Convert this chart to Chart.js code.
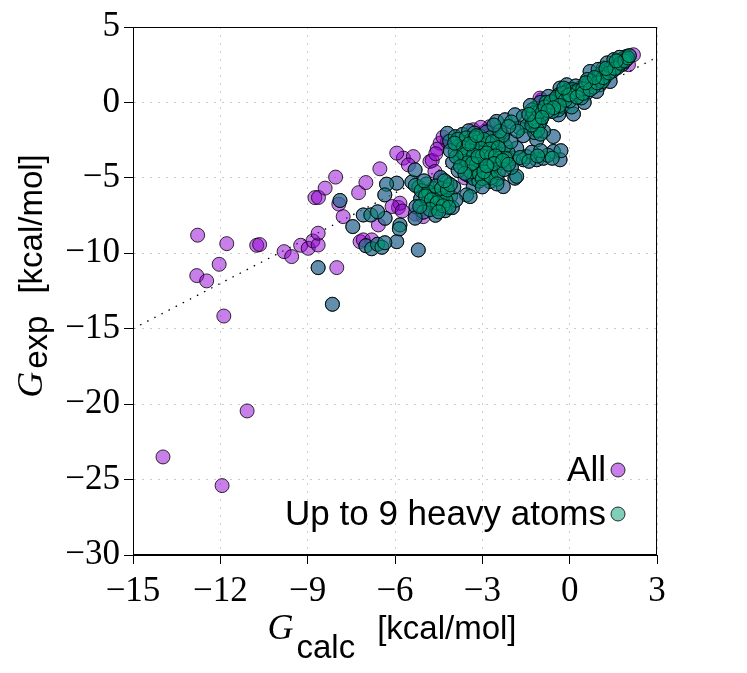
<!DOCTYPE html>
<html>
<head>
<meta charset="utf-8">
<script src="https://cdn.jsdelivr.net/npm/chart.js@4.4.0/dist/chart.umd.min.js"></script>
<style>
  html, body { margin: 0; padding: 0; background: #fff; }
  #wrap { width: 747px; height: 673px; }
</style>
</head>
<body>
<div id="wrap"><canvas id="chart" width="747" height="673"></canvas></div>
<script>
// ==================== DATA ====================
// molecules only in "All" (not in the small-molecule subset)
const allOnlyX = [-13.97, -11.94, -11.08, -11.88, -12.81, -12.47, -12.04, -12.78, -11.78, -10.75,
  -10.65, -9.81, -9.55, -9.24, -8.98, -8.82, -8.64, -8.64, -8.00, -8.75,
  -8.63, -8.40, -8.04, -7.93, -7.78, -7.25, -7.00, -6.52, -7.20, -6.57,
  -5.88, -5.71, -5.37, -5.54, -4.80, -4.72, -4.63, -5.83, -5.14, -4.45,
  -4.55, -2.74, -3.31, -0.96, -1.02, -0.85, 2.19, 2.02, -7.09, -6.80,
  -5.03, -4.34, -2.56, -2.60, -3.60, -3.40, -6.10, -5.75, -5.30, -2.90,
  -3.90, -4.20, -5.94, -4.35, -3.05, -4.60, -2.35];
const allOnlyY = [-23.5, -25.4, -20.45, -14.16, -11.48, -11.83, -10.73, -8.8, -9.36, -9.47,
  -9.42, -9.89, -10.22, -9.47, -9.67, -9.18, -9.45, -8.67, -10.95, -6.31,
  -6.3, -5.68, -4.95, -6.74, -7.57, -5.98, -5.31, -4.4, -9.23, -8.12,
  -6.96, -3.69, -3.59, -4.14, -3.92, -3.85, -4.58, -6.68, -7.12, -2.7,
  -3.1, -1.6, -1.81, 0.18, 0.29, -0.04, 3.16, 2.5, -9.11, -9.11,
  -7.57, -5.13, -2.15, -2.05, -5.0, -4.95, -6.9, -7.2, -7.4, -1.9,
  -2.45, -2.6, -3.36, -2.3, -1.65, -3.4, -1.95];

// molecules with up to 9 heavy atoms (also part of "All")
const heavyX = [
  -2.51, -2.22, -1.88, -1.59, -1.71, -1.47, -1.13, -0.56, -1.59, -0.33,
  -0.73, -0.10, 1.39, 0.70, 1.16, 0.13, -0.38, -0.28, 1.04, 0.93,
  0.58, 0.30, -0.05, -0.38, 0.07, 0.50, -2.30, -4.20,
  0.36, 0.52, 0.66, 0.79, 0.91, 1.02, 1.09, 1.21, 1.31, 1.42,
  1.49, 1.61, 1.69, 1.79, 1.88, 1.96, 0.61, 0.98, 1.29, 1.52,
  1.71, 0.82, 1.19, 1.48, 1.81, 1.64, 1.86, 1.94, 1.12, 0.21,
  -1.20, -1.10, -1.00, -1.15, -0.90, -0.70, -0.50, -0.30, -0.10, 0.10,
  0.20, -0.20, -0.90, -1.30, -1.20, -0.40, 0.00, 0.40, -1.00, -1.30,
  -1.25, -0.95, -0.60, -0.80,
  -1.48, -1.13, -0.90, -0.56, -0.33, -0.30, -1.93, -2.16, -2.45, -2.74,
  -2.97, -3.14, -1.88, -1.82, -1.59, -1.82, -2.28, -2.74, -3.31, -3.54,
  -3.42, -2.00, -1.30, -0.75, -1.00,
  -4.12, -3.93, -3.68, -3.47, -3.27, -3.08, -2.86, -2.71, -2.48, -3.82,
  -3.61, -3.38, -3.18, -2.97, -2.79, -2.62, -3.93, -3.72, -3.49, -3.31,
  -3.09, -2.88, -2.69, -2.52, -3.74, -3.52, -3.28, -3.07, -2.91, -2.68,
  -2.33, -2.12, -3.63, -3.42, -3.19, -2.98, -2.81, -2.58, -3.52, -3.29,
  -3.12, -2.87, -2.49, -4.02, -3.83, -2.21, -2.02, -2.31,
  -5.42, -5.18, -4.97, -4.81, -4.58, -4.41, -4.19, -5.12, -4.88, -4.69,
  -4.52, -4.28, -4.92, -4.68, -4.49, -4.31, -4.09, -3.98, -4.22, -4.43,
  -5.28, -5.02, -4.61, -4.03, -3.91,
  -5.94, -5.31, -4.57, -5.83, -5.31, -6.29, -6.35, -5.94, -5.85, -5.20,
  -7.09, -6.83, -6.34, -7.45, -7.89, -8.64, -8.15, -6.60,
  -7.00, -6.80, -6.60, -6.45, -6.35,
  -3.85, -3.55, -3.25, -2.95, -2.65, -3.65, -3.35, -3.05, -2.75, -2.45,
  -3.60, -3.30, -3.00, -2.70, -2.40, -3.50, -3.20, -2.90, -2.60, -3.40,
  -3.10, -2.80, -3.00, -2.70, -3.90, -4.10, -3.95, -2.35, -2.20, -3.35,
  -3.15, -2.85, -3.45, -3.20, -2.55, -3.60, -3.75, -2.95, -2.45, -2.25,
  -1.25, -1.15, -1.05, -1.10, -1.00, -1.30, -1.20, -1.05, -0.85, -0.65,
  -0.45, -0.25, -0.05, 0.15, 0.30, 0.45, -0.15, -0.35, -0.55, -0.75,
  -0.95, -1.35, -1.40, 0.00, 0.25, 0.45, 0.70, 0.95, 1.15, 1.35,
  1.55, 1.75, 1.90, 2.00, 0.55, 0.85, 1.25, 1.60, 2.05, -0.20,
  -5.30, -5.10, -4.85, -4.65, -4.45, -4.25, -4.95, -4.75, -4.55, -4.35,
  -4.15, -4.60, -4.40, -4.20, -4.80, -5.15, -4.10, -4.30, -5.00, -4.50,
  -2.60, -2.30, -1.70, -1.40, -2.85, -0.60, -1.10, -2.10, -2.50, -3.00,
  -2.00, -1.80, -2.40, -2.10, -2.60];
const heavyY = [
  -1.26, -1.15, -0.82, -0.93, -1.70, -1.55, -2.48, -2.26, -2.20, 0.95,
  0.40, 1.17, 1.39, 2.05, 2.28, -0.77, -0.82, -0.27, 1.17, 0.73,
  0.62, 0.40, 0.84, 0.50, -0.30, 0.00, -2.30, -2.05,
  0.95, 1.08, 1.27, 1.41, 1.58, 1.76, 1.92, 2.03, 2.14, 2.31,
  2.47, 2.56, 2.72, 2.84, 2.96, 3.05, 1.52, 2.19, 2.62, 2.84,
  2.99, 1.02, 1.61, 2.09, 2.52, 2.31, 2.71, 2.86, 1.39, 1.09,
  -0.40, -0.80, -1.20, -1.60, -0.50, -0.10, 0.20, 0.50, 0.70, 0.85,
  0.60, 0.30, -1.90, -1.00, -2.00, -0.50, 0.10, 0.30, 0.00, -0.50,
  -1.30, -0.80, -0.60, 0.00,
  -3.59, -3.80, -3.70, -3.25, -3.80, -3.20, -3.70, -3.92, -3.92, -4.00,
  -4.25, -4.47, -5.02, -3.03, -3.80, -4.90, -5.58, -5.25, -5.58, -6.13,
  -6.24, -4.30, -3.30, -3.50, -3.20,
  -2.58, -2.27, -2.12, -1.88, -2.03, -2.24, -1.97, -2.33, -2.52, -2.93,
  -2.66, -2.47, -2.63, -2.84, -2.69, -3.04, -3.31, -3.18, -3.08, -3.24,
  -3.34, -3.17, -3.42, -3.27, -3.71, -3.58, -3.83, -3.92, -3.66, -3.88,
  -3.46, -3.31, -4.18, -4.33, -4.52, -4.37, -4.63, -4.41, -4.78, -5.04,
  -5.21, -4.97, -5.08, -3.97, -4.52, -2.88, -2.61, -2.18,
  -5.28, -5.62, -5.91, -6.12, -6.28, -6.52, -6.71, -6.38, -6.63, -6.82,
  -7.03, -7.18, -5.41, -5.72, -5.88, -6.03, -6.21, -5.62, -5.31, -4.98,
  -6.91, -7.27, -7.48, -6.97, -6.48,
  -5.35, -4.47, -6.68, -8.12, -7.67, -5.42, -6.13, -9.23, -8.38, -9.78,
  -7.46, -7.46, -7.68, -8.23, -6.50, -10.95, -13.38, -7.25,
  -9.50, -9.70, -9.40, -9.60, -9.30,
  -2.45, -2.35, -2.35, -2.45, -2.60, -3.00, -2.90, -3.05, -3.10, -3.00,
  -3.45, -3.50, -3.55, -3.60, -3.70, -4.00, -4.10, -4.15, -4.10, -4.60,
  -4.75, -4.85, -5.05, -5.00, -3.60, -3.20, -2.70, -4.00, -3.70, -4.05,
  -3.60, -3.35, -2.75, -2.20, -3.55, -4.70, -4.25, -4.60, -4.65, -4.45,
  -0.70, -1.10, -1.45, -1.85, -2.10, -1.50, -1.25, -0.60, -0.30, 0.05,
  0.35, 0.60, 0.50, 0.70, 0.80, 0.90, 0.15, -0.20, -0.35, -0.55,
  -1.00, -0.20, -0.80, 0.50, 0.35, 0.60, 0.85, 1.30, 1.65, 1.95,
  2.25, 2.60, 2.75, 2.95, 1.30, 1.65, 2.25, 2.75, 3.10, 0.95,
  -5.50, -5.85, -5.95, -6.15, -6.35, -6.50, -6.20, -6.45, -6.65, -6.85,
  -6.95, -5.55, -5.70, -5.80, -7.10, -6.90, -5.45, -5.20, -5.20, -7.25,
  -4.05, -3.85, -3.65, -3.90, -4.20, -3.70, -3.55, -4.10, -5.40, -5.60,
  -1.30, -1.90, -1.90, -1.60, -1.50];

const seriesLabels = ["All", "Up to 9 heavy atoms"];
const xTicks = [-15, -12, -9, -6, -3, 0, 3];
const yTicks = [5, 0, -5, -10, -15, -20, -25, -30];
const diagonalX = [-15, 3];          // y = x reference line
const symbolText = "G";
const xSubText = "calc";
const ySubText = "exp";
const unitText = "[kcal/mol]";

// ==================== STYLE ====================
const serifFont = '"Liberation Serif", "Times New Roman", serif';
const sansFont = '"Liberation Sans", Arial, sans-serif';
const allColor = "rgba(148, 0, 211, 0.5)";
const heavyColor = "rgba(0, 158, 115, 0.5)";
const edgeColor = "rgba(0, 0, 0, 0.8)";
const markerRadius = 7;

function toPoints(xs, ys) {
  return xs.map((x, i) => ({ x: x, y: ys[i] }));
}

function fmtTick(v) {
  return v < 0 ? "\u2212" + Math.abs(v) : String(v);
}

function drawAxisTitle(ctx, sub, drop, cx, cy, vertical) {
  ctx.save();
  ctx.translate(cx, cy);
  if (vertical) ctx.rotate(-Math.PI / 2);
  ctx.fillStyle = "#000";
  ctx.textBaseline = "alphabetic";
  ctx.textAlign = "left";
  ctx.font = "italic 36px " + serifFont;
  const wG = ctx.measureText(symbolText).width;
  ctx.font = "33px " + sansFont;
  const wS = ctx.measureText(sub).width;
  const wU = ctx.measureText(unitText).width;
  const gap = 22;
  let x = -(wG + 3 + wS + gap + wU) / 2;
  ctx.font = "italic 36px " + serifFont;
  ctx.fillText(symbolText, x, 0);
  x += wG + 3;
  ctx.font = "33px " + sansFont;
  ctx.fillText(sub, x, drop);
  x += wS + gap;
  ctx.fillText(unitText, x, 0);
  ctx.restore();
}

const decorPlugin = {
  id: "decor",
  beforeDatasetsDraw(chart) {
    // box around the plot
    const { ctx, chartArea: a } = chart;
    ctx.save();
    ctx.strokeStyle = "#000";
    ctx.lineWidth = 1;
    ctx.strokeRect(a.left + 0.5, a.top + 0.5, a.right - a.left - 1, a.bottom - a.top - 1);
    ctx.restore();
  },
  afterDraw(chart) {
    const ctx = chart.ctx;
    drawAxisTitle(ctx, xSubText, 19, 392, 639, false);
    drawAxisTitle(ctx, ySubText, 5, 42, 276, true);

    // legend: text first, marker on the right
    const colors = [allColor, heavyColor];
    ctx.save();
    ctx.font = "35px " + sansFont;
    ctx.textAlign = "right";
    ctx.textBaseline = "alphabetic";
    seriesLabels.forEach((lab, i) => {
      const y = 470 + i * 44;
      ctx.fillStyle = "#000";
      ctx.fillText(lab, 606, y + 11);
      ctx.beginPath();
      ctx.arc(618, y, markerRadius, 0, Math.PI * 2);
      ctx.fillStyle = "#fff";
      ctx.fill();
      ctx.fillStyle = colors[i];
      ctx.fill();
      ctx.lineWidth = 1;
      ctx.strokeStyle = edgeColor;
      ctx.stroke();
    });
    ctx.restore();
  }
};

// ==================== CHART ====================
const gridCommon = {
  color: "#cccccc",
  lineWidth: 1,
  drawTicks: true,
  tickLength: 9,
  tickColor: "#000",
  tickWidth: 1,
  tickBorderDash: []
};

new Chart(document.getElementById("chart"), {
  type: "scatter",
  data: {
    datasets: [
      {
        label: seriesLabels[1],
        data: toPoints(heavyX, heavyY),
        backgroundColor: heavyColor,
        borderColor: edgeColor,
        borderWidth: 1,
        pointRadius: markerRadius,
        pointHoverRadius: markerRadius,
        order: 1
      },
      {
        label: seriesLabels[0],
        data: toPoints(allOnlyX, allOnlyY).concat(toPoints(heavyX, heavyY)),
        backgroundColor: allColor,
        borderColor: edgeColor,
        borderWidth: 1,
        pointRadius: markerRadius,
        pointHoverRadius: markerRadius,
        order: 2
      },
      {
        type: "line",
        label: "y = x",
        data: toPoints(diagonalX, diagonalX),
        showLine: true,
        borderColor: "#000",
        borderWidth: 1.3,
        borderDash: [1.5, 6.5],
        pointRadius: 0,
        fill: false,
        order: 3
      }
    ]
  },
  options: {
    responsive: false,
    devicePixelRatio: 1,
    animation: false,
    layout: { padding: { left: 0, right: 90, top: 27, bottom: 0 } },
    plugins: {
      legend: { display: false },
      tooltip: { enabled: false }
    },
    scales: {
      x: {
        type: "linear",
        position: "bottom",
        min: -15,
        max: 3,
        afterBuildTicks: s => { s.ticks = xTicks.map(v => ({ value: v })); },
        afterFit: s => { s.height = 118; },
        ticks: {
          color: "#000",
          font: { family: serifFont, size: 35, lineHeight: 1.2 },
          padding: 7,
          maxRotation: 0,
          autoSkip: false,
          callback: fmtTick
        },
        grid: gridCommon,
        border: { display: true, color: "#000", width: 1, dash: [2, 6] }
      },
      y: {
        type: "linear",
        position: "left",
        min: -30,
        max: 5,
        afterBuildTicks: s => { s.ticks = yTicks.map(v => ({ value: v })); },
        afterFit: s => { s.width = 133; },
        ticks: {
          color: "#000",
          font: { family: serifFont, size: 35, lineHeight: 1.2 },
          padding: 4,
          autoSkip: false,
          callback: fmtTick
        },
        grid: gridCommon,
        border: { display: true, color: "#000", width: 1, dash: [2, 6] }
      }
    }
  },
  plugins: [decorPlugin]
});
</script>
</body>
</html>
